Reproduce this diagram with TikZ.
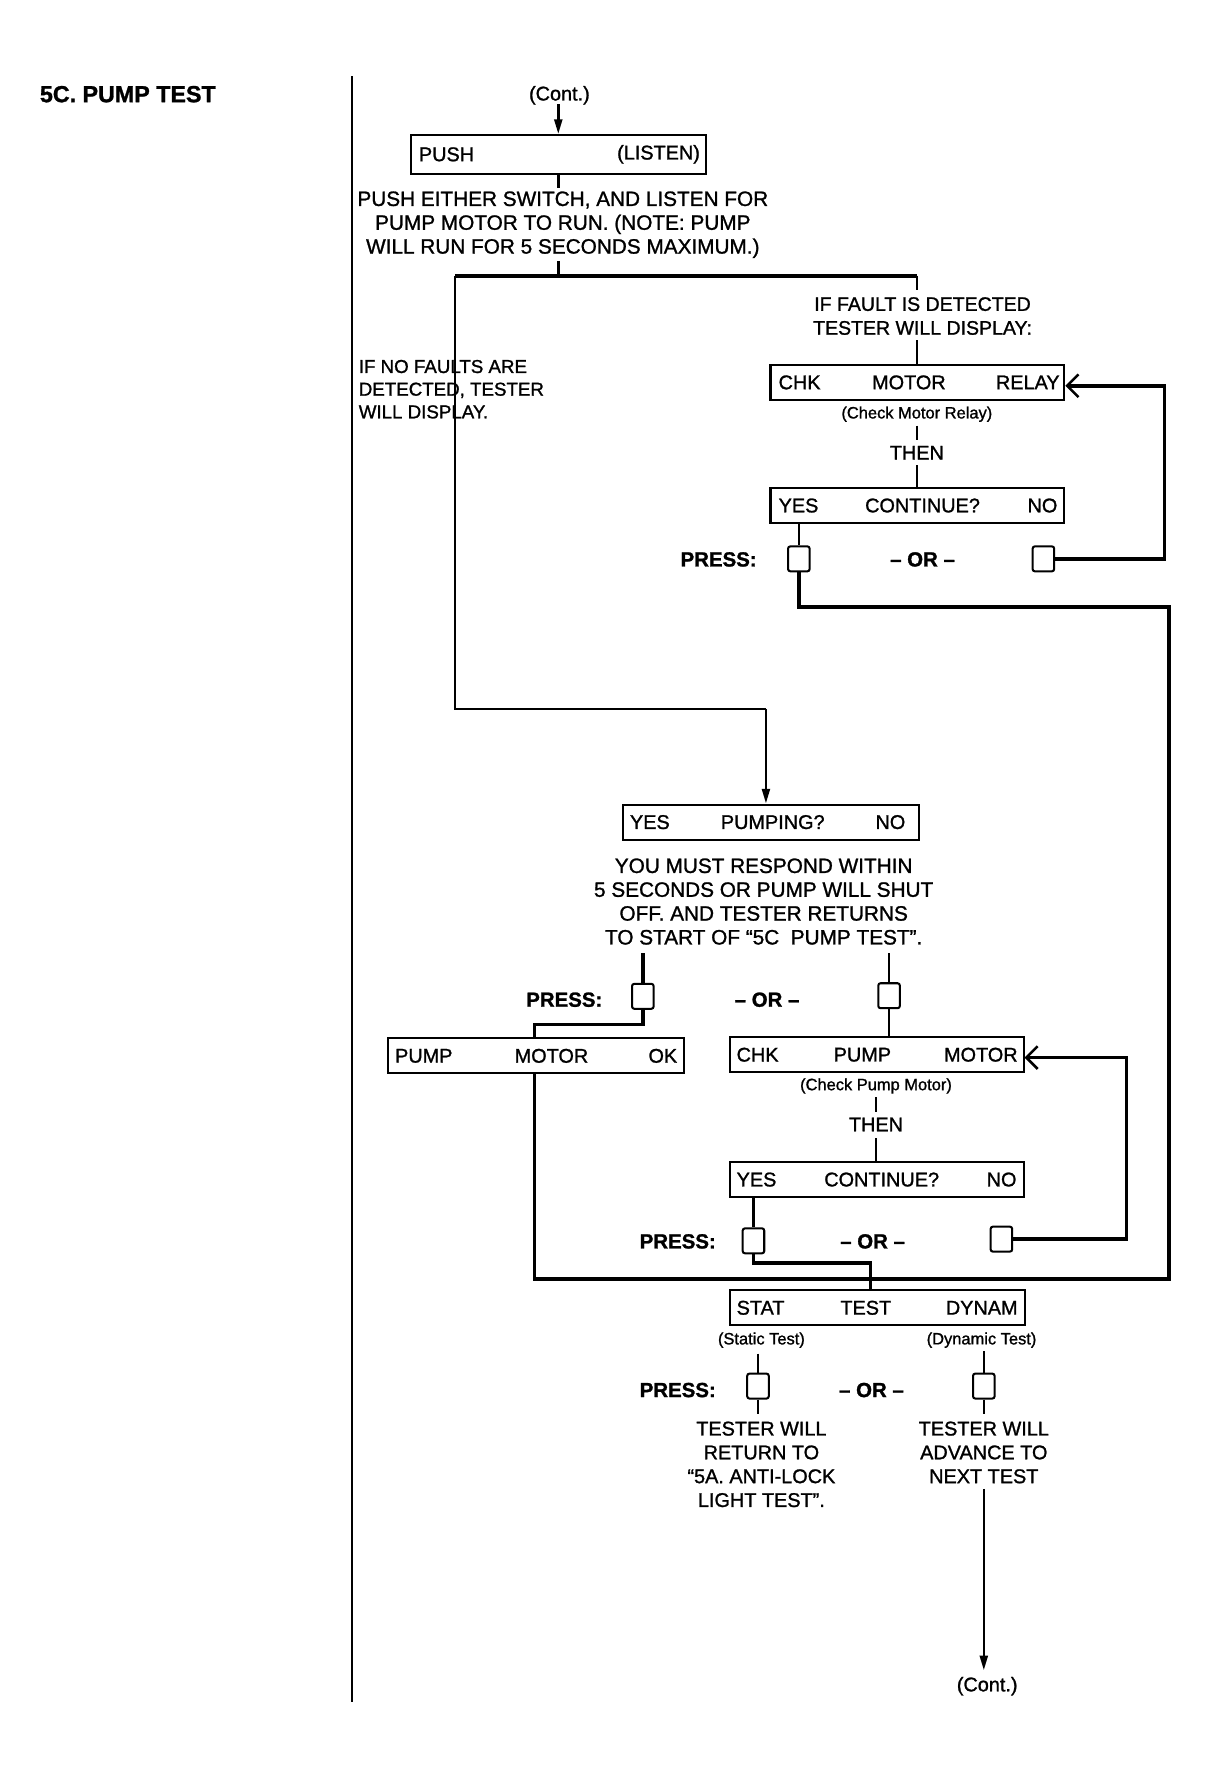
\documentclass[tikz,border=0pt]{standalone}
\usepackage{fontspec}
\setmainfont{Liberation Sans}[FakeBold=1.2]
\usetikzlibrary{arrows.meta}
\begin{document}
\begin{tikzpicture}[x=1pt,y=-1pt,
  txt/.style={inner sep=0pt, font=\fontsize{17.5}{21}\selectfont, align=center},
  para/.style={inner sep=0pt, font=\fontsize{18.3}{21}\selectfont, align=center},
  small/.style={inner sep=0pt, font=\fontsize{14.5}{16}\selectfont},
  boldtxt/.style={inner sep=0pt, font=\fontsize{18}{21}\selectfont\bfseries},
  disp/.style={draw, line width=1.8pt, minimum width=259pt, minimum height=31pt, inner sep=0pt},
  btn/.style={draw, line width=1.8pt, minimum width=19pt, minimum height=22pt, inner sep=0pt, rounded corners=2pt},
  conn/.style={line width=2.2pt},
  heavy/.style={line width=3.2pt},
  down/.style={line width=2.2pt, -{Triangle[length=13pt,width=7pt]}},
  back/.style={line width=3pt, -{Straight Barb[length=10pt,width=20pt,line width=2.2pt]}},
]
\useasboundingbox (0,0) rectangle (1064.5,1566.9);

% title and divider
\node[boldtxt, font=\fontsize{20.5}{24}\selectfont\bfseries, anchor=west] (title) at (35,83) {5C. PUMP TEST};
\coordinate (dtop) at (310,67);
\coordinate (dbot) at (310,1500);
\draw[line width=1.4pt] (dtop) -- (dbot);

% top
\node[txt] (cont1) at (493,84) {(Cont.)};
\node[disp, minimum width=260pt, minimum height=34pt] (push) at (492,136) {};
\node[txt, anchor=west] (pushl) at (369,136) {PUSH};
\node[txt, anchor=east] (pushr) at (617,136) {(LISTEN)};
\coordinate (c1s) at (492,92);
\draw[down] (c1s) -- (c1s |- push.north);
\node[para] (p1) at (496,198) {PUSH EITHER SWITCH, AND LISTEN FOR\\PUMP MOTOR TO RUN. (NOTE: PUMP\\WILL RUN FOR 5 SECONDS MAXIMUM.)};
\coordinate (p1top) at (492,166);
\coordinate (p1bot) at (492,230);
\coordinate (jtop) at (492,243);
\coordinate (jl) at (401,243);
\coordinate (jr) at (808,243);
\coordinate (ftop) at (808,256);
\draw[conn] (push.south) -- (p1top);
\draw[conn] (p1bot) -- (jtop);
\draw[heavy] (jl) -- (jr);
\draw[conn] (jr) -- (ftop);

\node[txt, font=\fontsize{17.2}{21}\selectfont] (fault) at (813,278.5) {IF FAULT IS DETECTED\\TESTER WILL DISPLAY:};
\node[txt, font=\fontsize{16.5}{20}\selectfont, align=left, anchor=west] (nofault) at (316,343) {IF NO FAULTS ARE\\DETECTED, TESTER\\WILL DISPLAY.};

% fault branch 1
\coordinate (fbot) at (808,300);
\node[disp] (chk1) at (808.5,337) {};
\node[txt, anchor=west] (chk1l) at (686,337) {CHK};
\node[txt] (chk1c) at (801,337) {MOTOR};
\node[txt, anchor=east] (chk1r) at (934,337) {RELAY};
\draw[conn] (fbot) -- (fbot |- chk1.north);
\node[small] (chk1n) at (808,365) {(Check Motor Relay)};
\coordinate (t1a) at (808,375);
\coordinate (t1b) at (808,388);
\node[txt] (then1) at (808,399) {THEN};
\coordinate (t1c) at (808,410);
\node[disp] (cq1) at (808.5,445.5) {};
\node[txt, anchor=west] (cq1l) at (686,445.5) {YES};
\node[txt] (cq1c) at (813,445.5) {CONTINUE?};
\node[txt, anchor=east] (cq1r) at (932,445.5) {NO};
\draw[conn] (t1a) -- (t1b);
\draw[conn] (t1c) -- (t1c |- cq1.north);
\node[boldtxt, anchor=east] (press1) at (667,493) {PRESS:};
\node[btn] (b1) at (704,492.5) {};
\node[boldtxt] (or1) at (813,493) {– OR –};
\node[btn] (b2) at (919.5,492.5) {};
\draw[conn] (b1.north |- cq1.south) -- (b1.north);
\coordinate (r1) at (1026,492.5);
\coordinate (r2) at (1026,340);
\draw[back] (b2.east) -- (r1) -- (r2) -- (r2 -| chk1.east);

% pumping
\node[disp, minimum width=261pt] (pumping) at (679.5,724.5) {};
\node[txt, anchor=west] (pumpl) at (555,724.5) {YES};
\node[txt] (pumpc) at (681,724.5) {PUMPING?};
\node[txt, anchor=east] (pumpr) at (798,724.5) {NO};
\coordinate (jl2) at (401,625);
\coordinate (jp) at (675,625);
\draw[conn] (jl) -- (jl2) -- (jp);
\draw[down] (jp) -- (jp |- pumping.north);

\node[para] (p2) at (673,794.5) {YOU MUST RESPOND WITHIN\\5 SECONDS OR PUMP WILL SHUT\\OFF. AND TESTER RETURNS\\TO START OF “5C\ \ PUMP TEST”.};
\coordinate (p2l) at (566.5,840);
\coordinate (p2r) at (783.5,840);
\node[boldtxt, anchor=east] (press2) at (531,881) {PRESS:};
\node[btn] (b3) at (566.5,878) {};
\node[boldtxt] (or2) at (676,881) {– OR –};
\node[btn] (b4) at (783.5,877.5) {};
\draw[heavy] (p2l) -- (b3.north);
\draw[conn] (p2r) -- (b4.north);

\node[disp, minimum width=261pt] (pmok) at (472.5,930.5) {};
\node[txt, anchor=west] (pmokl) at (348,930.5) {PUMP};
\node[txt] (pmokc) at (486,930.5) {MOTOR};
\node[txt, anchor=east] (pmokr) at (597,930.5) {OK};
\coordinate (c4) at (471,903);
\draw[heavy] (b3.south) -- (b3.south |- c4) -- (c4) -- (c4 |- pmok.north);

\node[disp] (chk2) at (772.5,929.5) {};
\node[txt, anchor=west] (chk2l) at (649,929.5) {CHK};
\node[txt] (chk2c) at (760,929.5) {PUMP};
\node[txt, anchor=east] (chk2r) at (897,929.5) {MOTOR};
\draw[conn] (b4.south) -- (b4.south |- chk2.north);
\node[small] (chk2n) at (772,957) {(Check Pump Motor)};
\coordinate (t2a) at (772,967);
\coordinate (t2b) at (772,980);
\node[txt] (then2) at (772,991) {THEN};
\coordinate (t2c) at (772,1003);
\node[disp] (cq2) at (772.5,1039.5) {};
\node[txt, anchor=west] (cq2l) at (649,1039.5) {YES};
\node[txt] (cq2c) at (777,1039.5) {CONTINUE?};
\node[txt, anchor=east] (cq2r) at (896,1039.5) {NO};
\draw[conn] (t2a) -- (t2b);
\draw[conn] (t2c) -- (t2c |- cq2.north);
\node[boldtxt, anchor=east] (press3) at (631,1094) {PRESS:};
\node[btn] (b5) at (664,1093.5) {};
\node[boldtxt] (or3) at (769,1094) {– OR –};
\node[btn] (b6) at (882.5,1092) {};
\draw[conn] (b5.north |- cq2.south) -- (b5.north);
\coordinate (r3) at (993,1092);
\coordinate (r4) at (993,932);
\draw[back] (b6.east) -- (r3) -- (r4) -- (r4 -| chk2.east);

% stat test
\node[disp, minimum width=260pt] (stat) at (773,1152.5) {};
\node[txt, anchor=west] (statl) at (649,1152.5) {STAT};
\node[txt] (statc) at (763,1152.5) {TEST};
\node[txt, anchor=east] (statr) at (897,1152.5) {DYNAM};
\coordinate (s1) at (767,1113);
\draw[heavy] (b5.south) -- (b5.south |- s1) -- (s1) -- (s1 |- stat.north);

% big return loop
\coordinate (l1) at (704,535);
\coordinate (l2) at (1030,535);
\coordinate (l3) at (1030,1127);
\coordinate (l4) at (471,1127);
\draw[heavy] (b1.south) -- (l1) -- (l2) -- (l3) -- (l4) -- (l4 |- pmok.south);

\node[small] (stn) at (671,1181) {(Static Test)};
\node[small] (dyn) at (865,1181) {(Dynamic Test)};
\node[boldtxt, anchor=east] (press4) at (631,1225) {PRESS:};
\node[btn] (b7) at (668,1221.5) {};
\node[boldtxt] (or4) at (768,1225) {– OR –};
\node[btn] (b8) at (867,1221.5) {};
\coordinate (u1) at (668,1193);
\coordinate (u2) at (668,1246);
\coordinate (u3) at (867,1191);
\coordinate (u4) at (867,1246);
\draw[conn] (u1) -- (b7.north);
\draw[conn] (b7.south) -- (u2);
\draw[conn] (u3) -- (b8.north);
\draw[conn] (b8.south) -- (u4);
\node[txt] (ret) at (671,1290.5) {TESTER WILL\\RETURN TO\\“5A. ANTI-LOCK\\LIGHT TEST”.};
\node[txt] (adv) at (867,1280) {TESTER WILL\\ADVANCE TO\\NEXT TEST};
\node[txt] (cont2) at (870,1486) {(Cont.)};
\coordinate (a1) at (867,1312);
\coordinate (a2) at (867,1472);
\draw[down] (a1) -- (a2);
\end{tikzpicture}
\end{document}
